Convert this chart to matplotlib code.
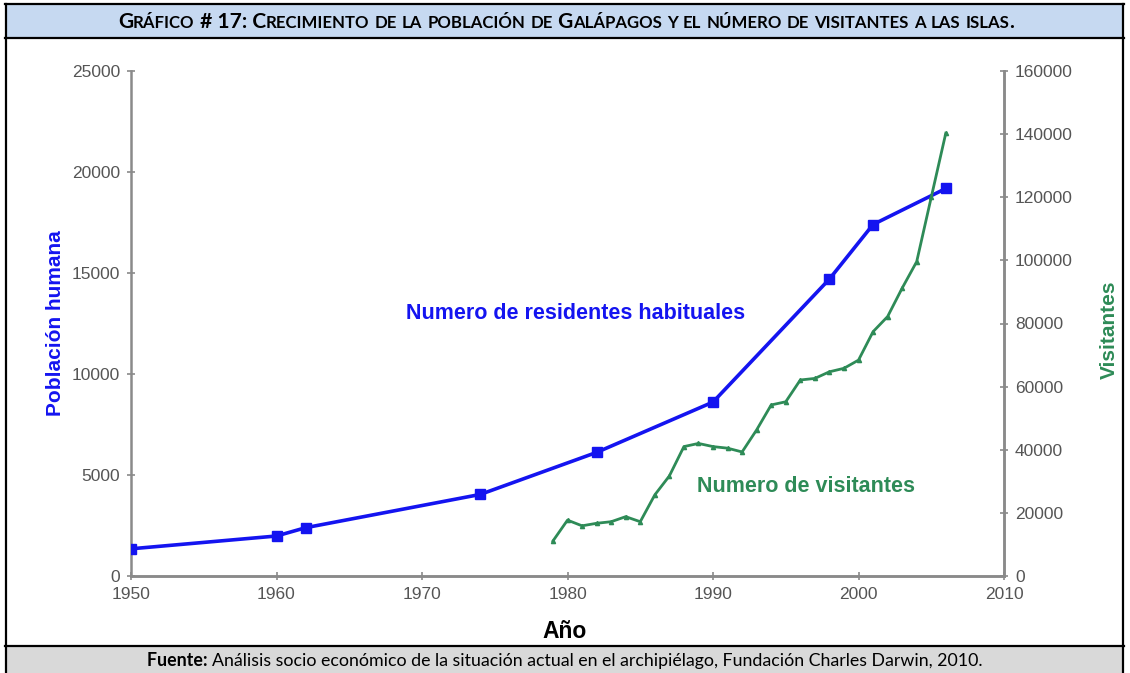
import matplotlib
matplotlib.use("Agg")
import matplotlib.pyplot as plt
from matplotlib.patches import Rectangle
from matplotlib.lines import Line2D
from matplotlib.font_manager import FontProperties

# population (left axis)
pop_years = [1950, 1960, 1962, 1974, 1982, 1990, 1998, 2001, 2006]
pop_values = [1346, 1980, 2391, 4037, 6119, 8611, 14700, 17400, 19184]

# visitors (right axis)
vis_years = [1979, 1980, 1981, 1982, 1983, 1984, 1985, 1986, 1987, 1988, 1989,
             1990, 1991, 1992, 1993, 1994, 1995, 1996, 1997, 1998, 1999, 2000,
             2001, 2002, 2003, 2004, 2005, 2006]
vis_values = [11100, 17700, 15900, 16700, 17200, 18800, 17200, 25700, 31700,
              41000, 42000, 41000, 40500, 39300, 46300, 54200, 55200, 62100,
              62600, 64700, 65800, 68400, 77400, 82200, 91200, 99600, 120000,
              140300]

x_ticks = [1950, 1960, 1970, 1980, 1990, 2000, 2010]
left_ticks = [0, 5000, 10000, 15000, 20000, 25000]
right_ticks = [0, 20000, 40000, 60000, 80000, 100000, 120000, 140000, 160000]

title_text = "Gráfico # 17: Crecimiento de la población de Galápagos y el número de visitantes a las islas."
source_bold = "Fuente: "
source_text = "Análisis socio económico de la situación actual en el archipiélago, Fundación Charles Darwin, 2010."

W, H = 1130, 673
BLUE = "#1414f0"
GREEN = "#2e8b57"
GREY = "#8a8a8a"
TICK_COLOR = "#555555"
SANS = ["Liberation Sans", "DejaVu Sans"]
DOC = ["Lato", "DejaVu Sans"]

fig = plt.figure(figsize=(W / 100, H / 100), dpi=100)
fig.patch.set_facecolor("white")

# frame: title band, footer band, borders
fig.patches.append(Rectangle((5 / W, 1 - 38 / H), 1118 / W, 34 / H, transform=fig.transFigure,
                             facecolor="#c6d9f1", edgecolor="none", zorder=0))
fig.patches.append(Rectangle((5 / W, 0), 1118 / W, 26 / H, transform=fig.transFigure,
                             facecolor="#d9d9d9", edgecolor="none", zorder=0))
for y in [4, 38, 646]:
    fig.lines.append(Line2D([5 / W, 1124 / W], [1 - y / H, 1 - y / H], transform=fig.transFigure,
                            color="black", lw=1.6))
for x in [6, 1123]:
    fig.lines.append(Line2D([x / W, x / W], [0, 1 - 4 / H], transform=fig.transFigure,
                            color="black", lw=1.6))

ax = fig.add_axes([131 / W, 1 - 576 / H, 873 / W, 505 / H])
ax2 = ax.twinx()

ax.plot(pop_years, pop_values, color=BLUE, lw=2.6, marker="s", markersize=7.5, zorder=3)
ax2.plot(vis_years, vis_values, color=GREEN, lw=2.0, marker="^", markersize=3, zorder=3)

ax.set_xlim(1950, 2010)
ax.set_ylim(0, 25000)
ax2.set_ylim(0, 160000)
ax.set_xticks(x_ticks)
ax.set_yticks(left_ticks)
ax2.set_yticks(right_ticks)

for a in (ax, ax2):
    a.spines["top"].set_visible(False)
    for side in ("left", "right", "bottom"):
        a.spines[side].set_color(GREY)
        a.spines[side].set_linewidth(1.8)
    a.tick_params(direction="inout", length=6, width=1.2, color=GREY,
                  labelcolor=TICK_COLOR, labelsize=12.5, pad=5)
ax2.spines["left"].set_visible(False)
for lab in ax.get_xticklabels() + ax.get_yticklabels() + ax2.get_yticklabels():
    lab.set_family(SANS)

ax.set_ylabel("Población humana", color=BLUE, fontsize=15, fontweight="bold", family=SANS,
              va="center", ha="center")
ax.yaxis.set_label_coords(-0.087, 0.5)
ax2.set_ylabel("Visitantes", color=GREEN, fontsize=15, fontweight="bold", family=SANS,
               va="center", ha="center")
ax2.yaxis.set_label_coords(1.121, 0.487)
ax.set_xlabel("Año", color="black", fontsize=16.5, fontweight="bold", family=SANS,
              va="center", ha="center")
ax.xaxis.set_label_coords(0.497, -0.109)

ax.text(1968.9, 13000, "Numero de residentes habituales", color=BLUE, fontsize=15.5,
        fontweight="bold", family=SANS, va="center", ha="left")
ax2.text(1988.9, 28300, "Numero de visitantes", color=GREEN, fontsize=15.5,
         fontweight="bold", family=SANS, va="center", ha="left")

renderer = fig.canvas.get_renderer()


def text_width(s, size, weight, family):
    fp = FontProperties(family=family, size=size, weight=weight)
    w1 = renderer.get_text_width_height_descent("|" + s + "|", fp, ismath=False)[0]
    w0 = renderer.get_text_width_height_descent("||", fp, ismath=False)[0]
    return w1 - w0


def draw_runs(runs, center_x, y, target_width, family):
    # runs: list of (string, relative size, weight)
    base = 10.0
    total = sum(text_width(s, base * r, w, family) for s, r, w in runs)
    base = base * target_width / total
    x = center_x - target_width / 2
    for s, r, w in runs:
        fig.text(x / W, 1 - y / H, s, fontsize=base * r, fontweight=w, family=family,
                 va="baseline", ha="left", color="black")
        x += text_width(s, base * r, w, family)


# small caps title
runs = []
for ch in title_text:
    small = ch.islower()
    if runs and runs[-1][1] == small:
        runs[-1][0] += ch
    else:
        runs.append([ch, small])
title_runs = [(s.upper(), 0.8 if small else 1.0, "bold") for s, small in runs]
draw_runs(title_runs, 565, 28, 894, DOC)

draw_runs([(source_bold, 1.0, "bold"), (source_text, 1.0, "normal")], 565, 666, 836, DOC)

fig.savefig("out.png", dpi=100)
